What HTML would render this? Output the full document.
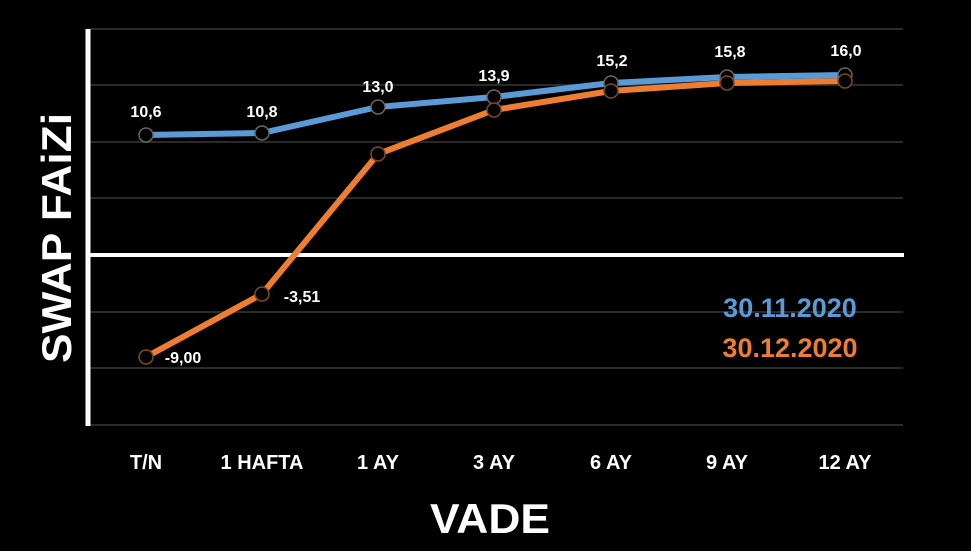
<!DOCTYPE html>
<html><head><style>
html,body{margin:0;padding:0;background:#000;}
svg{display:block;font-family:"Liberation Sans","DejaVu Sans",sans-serif;font-weight:bold;}
</style></head><body>
<svg width="971" height="551" viewBox="0 0 971 551">
<rect width="971" height="551" fill="#000"/>
<g stroke="#2a2a2a" stroke-width="2">
<line x1="90" y1="29" x2="903" y2="29"/>
<line x1="90" y1="85" x2="903" y2="85"/>
<line x1="90" y1="142" x2="903" y2="142"/>
<line x1="90" y1="198" x2="903" y2="198"/>
<line x1="90" y1="312" x2="903" y2="312"/>
<line x1="90" y1="368" x2="903" y2="368"/>
<line x1="90" y1="425" x2="903" y2="425"/>
</g>
<line x1="90" y1="255" x2="904" y2="255" stroke="#fff" stroke-width="4"/>
<line x1="88" y1="29" x2="88" y2="426" stroke="#fff" stroke-width="5"/>
<polyline fill="none" stroke="#ee7d31" stroke-width="6" stroke-linejoin="round" points="146,357 262,294 378,154 494,110 611,91 727,83 845,81"/>
<polyline fill="none" stroke="#5b9bd5" stroke-width="6" stroke-linejoin="round" points="146,135 262,133 378,107 494,97 611,83 727,77 845,75"/>
<g fill="#000" stroke="#666" stroke-width="1.5">
<circle cx="146" cy="135" r="7"/><circle cx="262" cy="133" r="7"/><circle cx="378" cy="107" r="7"/><circle cx="494" cy="97" r="7"/><circle cx="611" cy="83" r="7"/><circle cx="727" cy="77" r="7"/><circle cx="845" cy="75" r="7"/>
</g>
<g fill="#000" stroke="#7a4a25" stroke-width="1.5">
<circle cx="146" cy="357" r="7"/><circle cx="262" cy="294" r="7"/><circle cx="378" cy="154" r="7"/><circle cx="494" cy="110" r="7"/><circle cx="611" cy="91" r="7"/><circle cx="727" cy="83" r="7"/><circle cx="845" cy="81" r="7"/>
</g>
<g fill="#fff" font-size="16" text-anchor="middle">
<text x="146" y="117">10,6</text>
<text x="262" y="117">10,8</text>
<text x="378" y="92">13,0</text>
<text x="494" y="81">13,9</text>
<text x="612" y="66">15,2</text>
<text x="730" y="57">15,8</text>
<text x="846" y="56">16,0</text>
<text x="302" y="302">-3,51</text>
<text x="183" y="363">-9,00</text>
</g>
<g fill="#fff" font-size="20" text-anchor="middle">
<text x="146" y="469">T/N</text>
<text x="262" y="469">1 HAFTA</text>
<text x="378" y="469">1 AY</text>
<text x="494" y="469">3 AY</text>
<text x="611" y="469">6 AY</text>
<text x="727" y="469">9 AY</text>
<text x="845" y="469">12 AY</text>
</g>
<text x="490" y="533" fill="#fff" font-size="42" text-anchor="middle" textLength="120" lengthAdjust="spacingAndGlyphs">VADE</text>
<text transform="translate(71,238) rotate(-90)" fill="#fff" font-size="42" text-anchor="middle" textLength="250" lengthAdjust="spacingAndGlyphs">SWAP FAiZi</text>
<text x="790" y="317" fill="#5b9bd5" font-size="27" text-anchor="middle">30.11.2020</text>
<text x="790" y="357" fill="#ee7d31" font-size="27" text-anchor="middle">30.12.2020</text>
</svg>
</body></html>
